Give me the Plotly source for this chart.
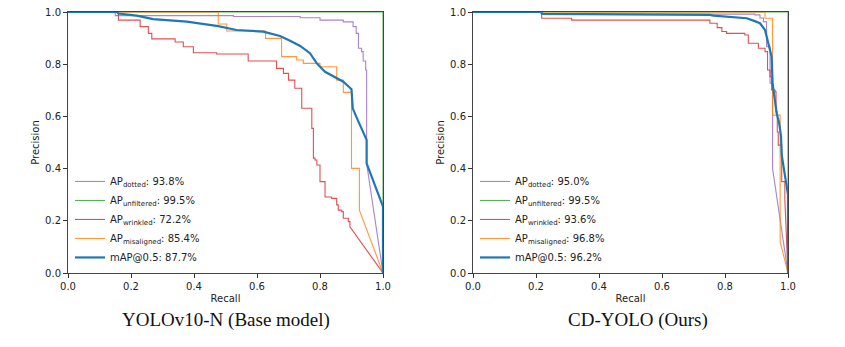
import plotly.graph_objects as go
from plotly.subplots import make_subplots

# ---- data (recall, precision) ----
# step curves: precision p[i] holds from r[i] to r[i+1], then drops; tail is drawn straight
L_DOT_R = [0, 0.15, 0.525, 0.737, 0.80, 0.874, 0.905, 0.915, 0.922, 0.932, 0.937, 0.945, 0.948]
L_DOT_P = [1.0, 0.986, 0.983, 0.978, 0.969, 0.962, 0.944, 0.918, 0.861, 0.848, 0.812, 0.778, 0.42]
L_DOT_TAIL = [(1.0, 0.0)]

L_UNF_R = [0, 1.0]
L_UNF_P = [1.0, 0.0]
L_UNF_TAIL = []

L_WRI_R = [0, 0.16, 0.229, 0.255, 0.266, 0.34, 0.366, 0.398, 0.472, 0.572, 0.662, 0.684, 0.70,
           0.72, 0.742, 0.774, 0.779, 0.784, 0.79, 0.80, 0.816, 0.837, 0.853, 0.858, 0.869,
           0.874, 0.89, 0.895]
L_WRI_P = [1.0, 0.969, 0.944, 0.918, 0.897, 0.885, 0.867, 0.844, 0.839, 0.812, 0.784, 0.765, 0.739,
           0.708, 0.631, 0.554, 0.44, 0.433, 0.414, 0.35, 0.291, 0.286, 0.261, 0.241, 0.235,
           0.21, 0.197, 0.177]
L_WRI_TAIL = [(1.0, 0.0)]

L_MIS_R = [0, 0.477, 0.504, 0.627, 0.678, 0.726, 0.747, 0.80, 0.853, 0.874, 0.90, 0.925]
L_MIS_P = [1.0, 0.954, 0.927, 0.899, 0.829, 0.816, 0.803, 0.79, 0.739, 0.692, 0.401, 0.241]
L_MIS_TAIL = [(1.0, 0.0)]

L_MAP_R = [0, 0.155, 0.16, 0.218, 0.27, 0.377, 0.477, 0.535, 0.62, 0.673, 0.705, 0.737, 0.768,
           0.79, 0.816, 0.842, 0.874, 0.90, 0.904, 0.915, 0.932, 0.948, 0.948, 1.0, 1.0]
L_MAP_P = [1.0, 1.0, 0.994, 0.986, 0.973, 0.963, 0.946, 0.931, 0.925, 0.908, 0.89, 0.870, 0.842,
           0.803, 0.771, 0.755, 0.733, 0.704, 0.631, 0.599, 0.554, 0.51, 0.42, 0.254, 0.0]

R_DOT_R = [0, 0.218, 0.895, 0.911, 0.922, 0.932, 0.943, 0.951]
R_DOT_P = [1.0, 0.992, 0.989, 0.977, 0.963, 0.867, 0.727, 0.401]
R_DOT_TAIL = [(1.0, 0.0)]

R_UNF_R = [0, 1.0]
R_UNF_P = [1.0, 0.0]
R_UNF_TAIL = []

R_WRI_R = [0, 0.218, 0.313, 0.752, 0.775, 0.79, 0.805, 0.863, 0.874, 0.906, 0.927, 0.935, 0.943,
           0.948, 0.959, 0.962, 0.966, 0.969, 0.98, 0.99]
R_WRI_P = [1.0, 0.976, 0.969, 0.957, 0.94, 0.925, 0.918, 0.912, 0.88, 0.861, 0.848, 0.778, 0.752,
           0.701, 0.695, 0.618, 0.54, 0.49, 0.35, 0.28]
R_WRI_TAIL = [(1.0, 0.0)]

R_MIS_R = [0, 0.927, 0.951, 0.975]
R_MIS_P = [1.0, 0.976, 0.605, 0.12]
R_MIS_TAIL = [(1.0, 0.0)]

R_MAP_R = [0, 0.215, 0.22, 0.5, 0.752, 0.763, 0.826, 0.869, 0.89, 0.911, 0.927, 0.937, 0.948,
           0.951, 0.959, 0.964, 0.972, 0.978, 0.98, 0.99, 0.996, 1.0, 1.0]
R_MAP_P = [1.0, 1.0, 0.993, 0.991, 0.989, 0.986, 0.98, 0.976, 0.967, 0.957, 0.931, 0.88, 0.829,
           0.727, 0.663, 0.612, 0.574, 0.523, 0.452, 0.382, 0.331, 0.30, 0.0]

CLASSES = ["dotted", "unfiltered", "wrinkled", "misaligned"]
AP_BASE = [93.8, 99.5, 72.2, 85.4]
AP_OURS = [95.0, 99.5, 93.6, 96.8]
MAP_BASE = 87.7
MAP_OURS = 96.2

COLORS = ["#9467bd", "#2ca02c", "#d62728", "#ff7f0e"]
MAP_COLOR = "#1f77b4"


def stairs(r, p, tail):
    x, y = [], []
    for i in range(len(r)):
        x.append(r[i]); y.append(p[i])
        if i + 1 < len(r):
            x.append(r[i + 1]); y.append(p[i])
    for tx, ty in tail:
        x.append(tx); y.append(ty)
    return x, y


fig = make_subplots(rows=1, cols=2)

panels = [
    (1, "legend", [(L_DOT_R, L_DOT_P, L_DOT_TAIL), (L_UNF_R, L_UNF_P, L_UNF_TAIL),
                   (L_WRI_R, L_WRI_P, L_WRI_TAIL), (L_MIS_R, L_MIS_P, L_MIS_TAIL)],
     AP_BASE, (L_MAP_R, L_MAP_P), MAP_BASE),
    (2, "legend2", [(R_DOT_R, R_DOT_P, R_DOT_TAIL), (R_UNF_R, R_UNF_P, R_UNF_TAIL),
                    (R_WRI_R, R_WRI_P, R_WRI_TAIL), (R_MIS_R, R_MIS_P, R_MIS_TAIL)],
     AP_OURS, (R_MAP_R, R_MAP_P), MAP_OURS),
]

for col, leg, curves, aps, mcurve, mval in panels:
    for (r, p, tail), name, ap, c in zip(curves, CLASSES, aps, COLORS):
        x, y = stairs(r, p, tail)
        fig.add_trace(go.Scatter(x=x, y=y, mode="lines", line=dict(color=c, width=1.1),
                                 opacity=0.8, name=f"AP<sub>{name}</sub>: {ap:.1f}%",
                                 legend=leg, hoverinfo="skip"), row=1, col=col)
    fig.add_trace(go.Scatter(x=mcurve[0], y=mcurve[1], mode="lines",
                             line=dict(color=MAP_COLOR, width=2.2),
                             name=f"mAP@0.5: {mval:.1f}%", legend=leg, hoverinfo="skip"),
                  row=1, col=col)

# the page body adds an 8px offset, so positions below are page pixels minus 8
W, H = 845, 347
OFF = 8
ML, MR, MT, MB = 68 - OFF, W - (788 - OFF), 12 - OFF, H - (273 - OFF)
PW = W - ML - MR
PH = H - MT - MB
ax_style = dict(range=[0, 1], dtick=0.2, tickformat=".1f", showgrid=False, zeroline=False,
                showline=True, mirror=True, linecolor="#444", linewidth=1, layer="below traces",
                ticks="outside", ticklen=4, tickcolor="#333", automargin=False,
                ticklabeloverflow="allow",
                tickfont=dict(family="DejaVu Sans", size=10, color="#222"))
fig.update_xaxes(**ax_style, title=dict(text="Recall", standoff=3,
                 font=dict(family="DejaVu Sans", size=10, color="#222")))
fig.update_yaxes(**ax_style, title=dict(text="Precision", standoff=3,
                 font=dict(family="DejaVu Sans", size=10, color="#222")))

leg_style = dict(xanchor="left", yanchor="bottom", bgcolor="rgba(255,255,255,0)",
                 font=dict(family="DejaVu Sans", size=10, color="#222"), tracegroupgap=0)

title_font = dict(family="Liberation Serif", size=19, color="#111")
fig.update_layout(
    width=W, height=H, margin=dict(l=ML, r=MR, t=MT, b=MB, autoexpand=False),
    paper_bgcolor="white", plot_bgcolor="white",
    xaxis=dict(domain=[0, 315 / PW]), xaxis2=dict(domain=[(473 - 68) / PW, 1]),
    yaxis=dict(domain=[0, 1]), yaxis2=dict(domain=[0, 1]),
    legend=dict(x=2 / PW, y=0.004, **leg_style),
    legend2=dict(x=407 / PW, y=0.004, **leg_style),
    annotations=[
        dict(text="YOLOv10-N (Base model)", x=(226 - 68) / PW, y=-(320 - 273) / PH,
             xref="paper", yref="paper", xanchor="center", yanchor="middle", showarrow=False,
             font=title_font),
        dict(text="CD-YOLO (Ours)", x=(638 - 68) / PW, y=-(320 - 273) / PH,
             xref="paper", yref="paper", xanchor="center", yanchor="middle", showarrow=False,
             font=title_font),
    ],
)

fig.write_html("out.html")
